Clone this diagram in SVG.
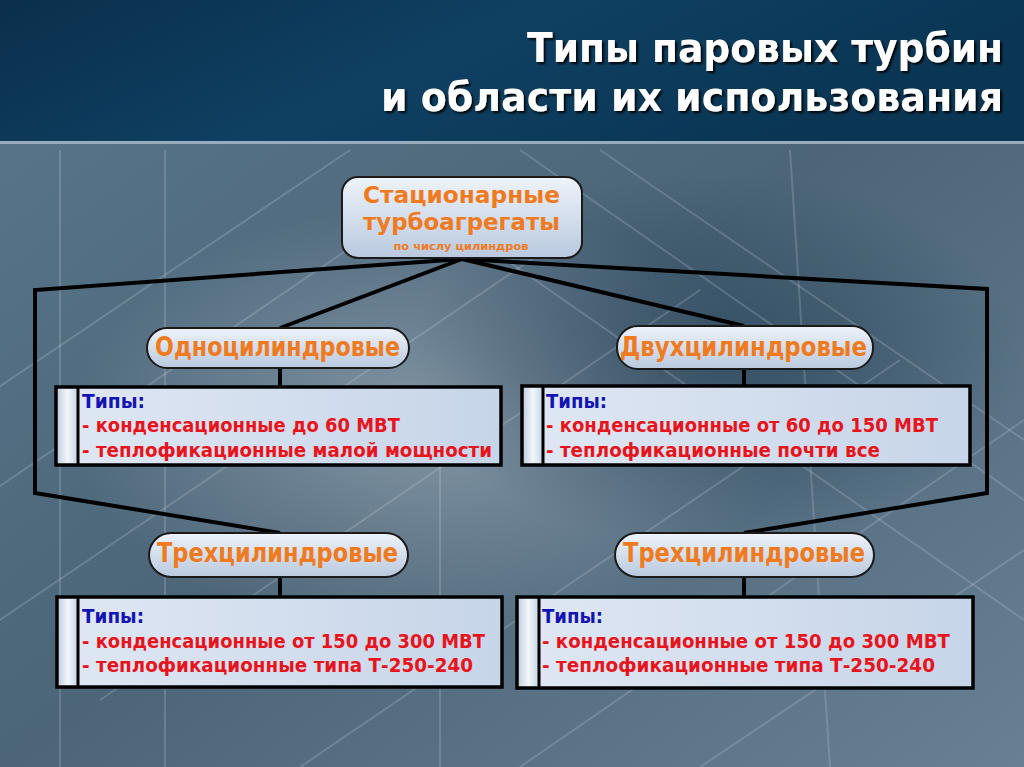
<svg xmlns="http://www.w3.org/2000/svg" width="1024" height="767" viewBox="0 0 1024 767">
<defs>
<linearGradient id="hdr" x1="0" y1="0" x2="1" y2="0.3">
<stop offset="0" stop-color="#0b2f4c"/>
<stop offset="0.5" stop-color="#0f4062"/>
<stop offset="1" stop-color="#0a3553"/>
</linearGradient>
<linearGradient id="bg" x1="0" y1="0" x2="1" y2="1">
<stop offset="0" stop-color="#5a778b"/>
<stop offset="0.5" stop-color="#4c6578"/>
<stop offset="1" stop-color="#678094"/>
</linearGradient>
<radialGradient id="glow1" cx="0.42" cy="0.45" r="0.35">
<stop offset="0" stop-color="#b9c6d0" stop-opacity="0.5"/>
<stop offset="1" stop-color="#b9c6d0" stop-opacity="0"/>
</radialGradient>
<radialGradient id="dark1" cx="0.7" cy="0.35" r="0.3">
<stop offset="0" stop-color="#1f3a50" stop-opacity="0.6"/>
<stop offset="1" stop-color="#1f3a50" stop-opacity="0"/>
</radialGradient>
<linearGradient id="pill" x1="0" y1="0" x2="0" y2="1">
<stop offset="0" stop-color="#eef3fa"/>
<stop offset="1" stop-color="#b9c9df"/>
</linearGradient>
<linearGradient id="box" x1="0" y1="0" x2="1" y2="0">
<stop offset="0" stop-color="#dfe7f3"/>
<stop offset="1" stop-color="#c7d5e9"/>
</linearGradient>
<linearGradient id="strip" x1="0" y1="0" x2="1" y2="0">
<stop offset="0" stop-color="#c5d2e4"/>
<stop offset="0.5" stop-color="#f2f6fb"/>
<stop offset="1" stop-color="#c9d6e8"/>
</linearGradient>
<filter id="sh" filterUnits="userSpaceOnUse" x="300" y="0" width="724" height="140">
<feDropShadow dx="2" dy="2" stdDeviation="1" flood-color="#000" flood-opacity="0.9"/>
</filter>
<style>
.t{font-family:"DejaVu Sans","Liberation Sans",sans-serif;font-weight:bold}
.tc{font-family:"DejaVu Sans Condensed","DejaVu Sans","Liberation Sans",sans-serif;font-stretch:condensed;font-weight:bold}
.or{fill:#f07a1e;font-size:26px}
.blue{fill:#1414b4;font-size:20px}
.red{fill:#e8141c;font-size:20px}
.pillr{fill:url(#pill);stroke:#1a1a1a;stroke-width:2}
.boxr{fill:url(#box);stroke:#000;stroke-width:3.5}
.stripr{fill:url(#strip)}
.ln{stroke:#000;stroke-width:4;fill:none;stroke-linejoin:miter}
.tex{stroke:#d8e2ea;stroke-opacity:0.2;stroke-width:2;fill:none}
</style>
</defs>

<!-- background -->
<rect x="0" y="0" width="1024" height="767" fill="url(#bg)"/>
<rect x="0" y="140" width="1024" height="627" fill="url(#glow1)"/>
<rect x="0" y="140" width="1024" height="627" fill="url(#dark1)"/>
<g class="tex">
<path d="M-50 420 L350 150"/><path d="M-50 520 L450 180"/><path d="M0 620 L560 240"/>
<path d="M100 700 L700 290"/><path d="M300 767 L900 360"/><path d="M520 767 L1024 420"/>
<path d="M700 767 L1024 550"/><path d="M520 150 L1024 500"/><path d="M420 200 L1024 620"/>
<path d="M600 150 L1024 440"/><path d="M60 150 L60 767"/><path d="M165 150 L165 767"/>
<path d="M440 420 L440 767"/><path d="M790 150 L830 767"/>
</g>
<rect x="0" y="140" width="1024" height="4" fill="#7e95a8"/>
<rect x="0" y="0" width="1024" height="141" fill="url(#hdr)"/>
<rect x="0" y="141" width="1024" height="3" fill="#9fb2c2" opacity="0.8"/>

<!-- title -->
<g id="title" class="tc" fill="#ffffff" font-size="40" text-anchor="end" filter="url(#sh)">
<text x="1003" y="62" textLength="476" lengthAdjust="spacingAndGlyphs">Типы паровых турбин</text>
<text x="1003" y="111" textLength="622" lengthAdjust="spacingAndGlyphs">и области их использования</text>
</g>

<!-- connectors -->
<g id="connectors" class="ln">
<path d="M462 259 L35 290 L35 493 L280 533"/>
<path d="M462 259 L280 328"/>
<path d="M462 259 L744 326"/>
<path d="M462 259 L987 289 L987 493 L744 533"/>
<path d="M440 258 L486 258"/>
<path d="M280 367 L280 388"/>
<path d="M744 369 L744 387"/>
<path d="M280 577 L280 597"/>
<path d="M744 577 L744 597"/>
</g>

<!-- root -->
<g id="root">
<rect x="342" y="177" width="240" height="81" rx="16" class="pillr"/>
<text class="t or" style="font-size:23px" x="461.5" y="203" text-anchor="middle" textLength="197" lengthAdjust="spacingAndGlyphs">Стационарные</text>
<text class="t or" style="font-size:23px" x="461.5" y="230" text-anchor="middle" textLength="197" lengthAdjust="spacingAndGlyphs">турбоагрегаты</text>
<text class="t" x="461" y="250" fill="#f07a1e" font-size="11" text-anchor="middle" textLength="135" lengthAdjust="spacingAndGlyphs">по числу цилиндров</text>
</g>

<!-- level 1 -->
<g id="one">
<rect x="147" y="328" width="262" height="40" rx="20" class="pillr"/>
<text class="t or" x="155" y="356" textLength="245" lengthAdjust="spacingAndGlyphs">Одноцилиндровые</text>
</g>
<g id="two">
<rect x="617" y="326" width="256" height="43" rx="21" class="pillr"/>
<text class="t or" x="620" y="356" textLength="247" lengthAdjust="spacingAndGlyphs">Двухцилиндровые</text>
</g>

<g id="one-types">
<rect x="56" y="387" width="445" height="78" class="boxr"/>
<rect x="58" y="389" width="19" height="74" class="stripr"/>
<line x1="78" y1="387" x2="78" y2="465" stroke="#000" stroke-width="3"/>
<text class="t blue" x="82" y="408" textLength="63" lengthAdjust="spacingAndGlyphs">Типы:</text>
<text class="t red" x="82" y="432" textLength="318" lengthAdjust="spacingAndGlyphs">- конденсационные до 60 МВТ</text>
<text class="t red" x="82" y="457" textLength="410" lengthAdjust="spacingAndGlyphs">- теплофикационные малой мощности</text>
</g>
<g id="two-types">
<rect x="522" y="386" width="448" height="79" class="boxr"/>
<rect x="524" y="388" width="18" height="75" class="stripr"/>
<line x1="543" y1="386" x2="543" y2="465" stroke="#000" stroke-width="3"/>
<text class="t blue" x="546" y="408" textLength="61" lengthAdjust="spacingAndGlyphs">Типы:</text>
<text class="t red" x="546" y="432" textLength="392" lengthAdjust="spacingAndGlyphs">- конденсационные от 60 до 150 МВТ</text>
<text class="t red" x="546" y="457" textLength="334" lengthAdjust="spacingAndGlyphs">- теплофикационные почти все</text>
</g>

<!-- level 2 -->
<g id="three-left">
<rect x="149" y="533" width="259" height="44" rx="22" class="pillr"/>
<text class="t or" x="157" y="562" textLength="241" lengthAdjust="spacingAndGlyphs">Трехцилиндровые</text>
</g>
<g id="three-right">
<rect x="615" y="533" width="259" height="44" rx="22" class="pillr"/>
<text class="t or" x="623" y="562" textLength="242" lengthAdjust="spacingAndGlyphs">Трехцилиндровые</text>
</g>

<g id="three-left-types">
<rect x="57" y="597" width="445" height="90" class="boxr"/>
<rect x="59" y="599" width="18" height="86" class="stripr"/>
<line x1="78" y1="597" x2="78" y2="687" stroke="#000" stroke-width="3"/>
<text class="t blue" x="82" y="623" textLength="62" lengthAdjust="spacingAndGlyphs">Типы:</text>
<text class="t red" x="82" y="648" textLength="403" lengthAdjust="spacingAndGlyphs">- конденсационные от 150 до 300 МВТ</text>
<text class="t red" x="82" y="672" textLength="391" lengthAdjust="spacingAndGlyphs">- теплофикационные типа Т-250-240</text>
</g>
<g id="three-right-types">
<rect x="517" y="597" width="456" height="91" class="boxr"/>
<rect x="519" y="599" width="19" height="87" class="stripr"/>
<line x1="539" y1="597" x2="539" y2="688" stroke="#000" stroke-width="3"/>
<text class="t blue" x="542" y="623" textLength="61" lengthAdjust="spacingAndGlyphs">Типы:</text>
<text class="t red" x="542" y="648" textLength="408" lengthAdjust="spacingAndGlyphs">- конденсационные от 150 до 300 МВТ</text>
<text class="t red" x="542" y="672" textLength="393" lengthAdjust="spacingAndGlyphs">- теплофикационные типа Т-250-240</text>
</g>
</svg>
